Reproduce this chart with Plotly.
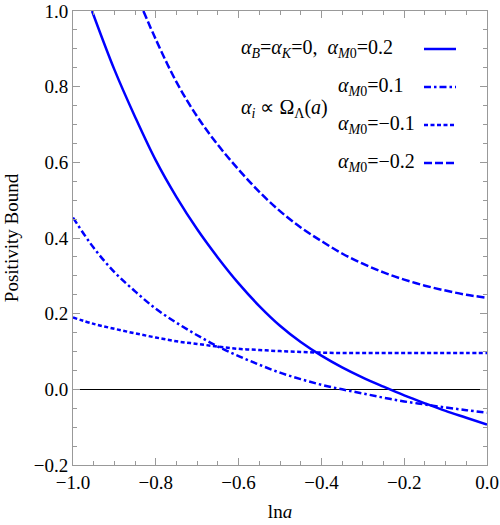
import plotly.graph_objects as go

# alpha_M0 = 0.2 (solid)
x_m02 = [-0.954, -0.9, -0.85, -0.8, -0.75, -0.7, -0.65, -0.6, -0.55, -0.5, -0.45,
         -0.4, -0.35, -0.3, -0.25, -0.2, -0.15, -0.1, -0.05, 0.0]
y_m02 = [1.0, 0.845, 0.720, 0.605, 0.508, 0.423, 0.348, 0.280, 0.220, 0.168, 0.125,
         0.089, 0.058, 0.031, 0.007, -0.016, -0.037, -0.057, -0.075, -0.093]

# alpha_M0 = 0.1 (dash-dot)
x_m01 = [-1.0, -0.95, -0.9, -0.85, -0.8, -0.75, -0.7, -0.65, -0.6, -0.55, -0.5,
         -0.45, -0.4, -0.35, -0.3, -0.25, -0.2, -0.15, -0.1, -0.05, 0.0]
y_m01 = [0.454, 0.374, 0.31, 0.259, 0.213, 0.176, 0.143, 0.113, 0.088, 0.065, 0.044,
         0.027, 0.012, 0.0, -0.011, -0.022, -0.032, -0.040, -0.048, -0.055, -0.062]

# alpha_M0 = -0.1 (dotted)
x_mm01 = [-1.0, -0.95, -0.9, -0.85, -0.8, -0.75, -0.7, -0.65, -0.6, -0.55, -0.5,
          -0.45, -0.4, -0.35, -0.3, -0.25, -0.2, -0.15, -0.1, -0.05, 0.0]
y_mm01 = [0.190, 0.173, 0.160, 0.148, 0.137, 0.127, 0.120, 0.113, 0.107, 0.104, 0.101,
          0.099, 0.097, 0.096, 0.096, 0.096, 0.096, 0.096, 0.096, 0.096, 0.096]

# alpha_M0 = -0.2 (long dash)
x_mm02 = [-0.83, -0.8, -0.75, -0.7, -0.65, -0.6, -0.55, -0.5, -0.45, -0.4, -0.35,
          -0.3, -0.25, -0.2, -0.15, -0.1, -0.05, 0.0]
y_mm02 = [1.0, 0.925, 0.812, 0.721, 0.646, 0.581, 0.522, 0.471, 0.428, 0.392, 0.359,
          0.332, 0.309, 0.290, 0.274, 0.261, 0.250, 0.242]

LABELS = ["<i>α</i><sub><i>B</i></sub>=<i>α</i><sub><i>K</i></sub>=0,  <i>α</i><sub><i>M</i>0</sub>=0.2",
          "<i>α</i><sub><i>M</i>0</sub>=0.1",
          "<i>α</i><sub><i>M</i>0</sub>=−0.1",
          "<i>α</i><sub><i>M</i>0</sub>=−0.2"]
DASHES = ["solid", "7px,3px,2.5px,3px", "4px,2.5px", "8px,3px"]

BLUE = "#0000ff"
AXC = "#999999"
FONT = "Liberation Serif"

fig = go.Figure()
for xs, ys, dash in zip([x_m02, x_m01, x_mm01, x_mm02],
                        [y_m02, y_m01, y_mm01, y_mm02], DASHES):
    fig.add_trace(go.Scatter(x=xs, y=ys, mode="lines", showlegend=False,
                             line=dict(color=BLUE, width=2.5, dash=dash, shape="spline")))

W, H = 500, 525
L, R, T, B = 73, 13, 11, 60
pw, ph = W - L - R, H - T - B


# legend positions below are given in window pixels
def px(x):
    return (x - L) / pw


def py(y):
    return 1 - (y - T) / ph


leg_y = [49, 87, 125, 163]
leg_x = [239, 336, 336, 336]
for lab, dash, yy, xx in zip(LABELS, DASHES, leg_y, leg_x):
    fig.add_annotation(x=px(xx), y=py(yy), xref="paper", yref="paper", text=lab,
                       showarrow=False, xanchor="left", yanchor="middle",
                       font=dict(family=FONT, size=20, color="black"))
    fig.add_shape(type="line", xref="paper", yref="paper",
                  x0=px(424), x1=px(456), y0=py(yy), y1=py(yy),
                  line=dict(color=BLUE, width=2.5, dash=dash))
fig.add_annotation(x=px(239), y=py(108), xref="paper", yref="paper",
                   text="<i>α</i><sub><i>i</i></sub> ∝ Ω<sub>Λ</sub>(<i>a</i>)",
                   showarrow=False, xanchor="left", yanchor="middle",
                   font=dict(family=FONT, size=20, color="black"))

axis = dict(showline=True, linecolor=AXC, linewidth=1, mirror="allticks",
            ticks="inside", ticklen=7, tickcolor=AXC, tickwidth=1,
            showgrid=False, tickformat=".1f", dtick=0.2, automargin=False,
            ticklabeloverflow="allow",
            tickfont=dict(family=FONT, size=19, color="black"),
            minor=dict(ticks="inside", ticklen=4, tickcolor=AXC, dtick=0.05, showgrid=False))

fig.update_xaxes(range=[-1, 0], tick0=-1, zeroline=False,
                 title=dict(text="ln<i>a</i>", font=dict(family=FONT, size=19, color="black"),
                            standoff=12),
                 **axis)
fig.update_yaxes(range=[-0.2, 1.0], tick0=0, zeroline=True, zerolinecolor="black",
                 zerolinewidth=1,
                 title=dict(text="Positivity Bound", font=dict(family=FONT, size=19, color="black"),
                            standoff=10),
                 **axis)

fig.update_layout(width=W, height=H, margin=dict(l=L, r=R, t=T, b=B),
                  plot_bgcolor="white", paper_bgcolor="white",
                  font=dict(family=FONT, size=19, color="black"))

# drop the default 8px body margin so the figure fills the window exactly
fig.write_html("out.html", config={"displayModeBar": False},
               post_script="document.body.style.margin='0';")
